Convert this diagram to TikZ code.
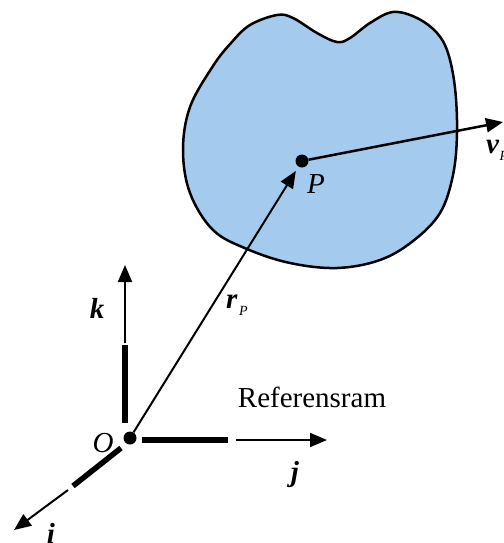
\documentclass[tikz,border=0pt]{standalone}
\usepackage{fontspec}
\setmainfont{Liberation Serif}
\usetikzlibrary{arrows.meta}
\definecolor{blobfill}{RGB}{164,203,238}
\begin{document}
\begin{tikzpicture}[x=1pt,y=-1pt,
  thinvec/.style={line width=2pt,-{Triangle[length=17pt,width=14pt]}},
  thickseg/.style={line width=5.5pt},
  dot/.style={circle,fill=black,inner sep=0pt,minimum size=13pt},
  lbl/.style={font=\fontsize{29}{34}\selectfont,inner sep=0pt,anchor=base},
  sublbl/.style={font=\fontsize{14}{16}\selectfont\itshape,inner sep=0pt,anchor=base}]
\useasboundingbox (0,0) rectangle (503,543);
\clip (0,0) rectangle (503,543);
% body
\draw[line width=2.5pt,fill=blobfill] plot[smooth cycle,tension=0.6] coordinates {
  (250,25) (277,15) (293,18) (317,33) (337,42) (350,38) (370,23) (393,12)
  (417,18) (437,33) (448,53) (455,88)
  (457,133) (453,175) (440,213) (413,241) (380,260) (337,268) (290,263)
  (247,249) (213,230) (190,193) (183,150) (190,107) (213,66) (231,43)};
\node[dot] (P) at (302,161) {};
\node[dot] (O) at (130,438) {};
\coordinate (vend) at (503,122);
% axes
\coordinate (ktop) at (125,265);
\coordinate (kmid) at (125,343);
\coordinate (kbase) at (125,423);
\coordinate (jbase) at (142,440);
\coordinate (jmid) at (228,440);
\coordinate (jmid2) at (236,440);
\coordinate (jtip) at (327,440);
\coordinate (ibase) at (121,448);
\coordinate (imid) at (73,486);
\coordinate (imid2) at (68,490);
\coordinate (itip) at (14,530);
\draw[thickseg] (kbase) -- (125,345);
\draw[thinvec] (kmid) -- (ktop);
\draw[thickseg] (jbase) -- (jmid);
\draw[thinvec] (jmid2) -- (jtip);
\draw[thickseg] (ibase) -- (imid);
\draw[thinvec] (imid2) -- (itip);
% vectors
\draw[thinvec,shorten >=5pt] (O) -- (P);
\draw[line width=2.5pt,-{Triangle[length=17pt,width=14pt]}] (P) -- (vend);
% labels
\node[lbl] (kl) at (97,318) {\textbf{\textit{k}}};
\node[lbl] (jl) at (295,481) {\textbf{\textit{j}}};
\node[lbl] (il) at (51,543) {\textbf{\textit{i}}};
\node[lbl] (Ol) at (103,452) {\textit{O}};
\node[lbl] (Pl) at (316,193) {\textit{P}};
\node[lbl,anchor=base west] (vl) at (486,153) {\textbf{\textit{v}}};
\node[sublbl,anchor=base west] (vs) at ([yshift=-7pt]vl.base east) {P};
\node[lbl,anchor=base west] (rl) at (226,308) {\textbf{\textit{r}}};
\node[sublbl,anchor=base west] (rs) at (239,315) {P};
\node[lbl] (ref) at (312,407) {Referensram};
\end{tikzpicture}
\end{document}
